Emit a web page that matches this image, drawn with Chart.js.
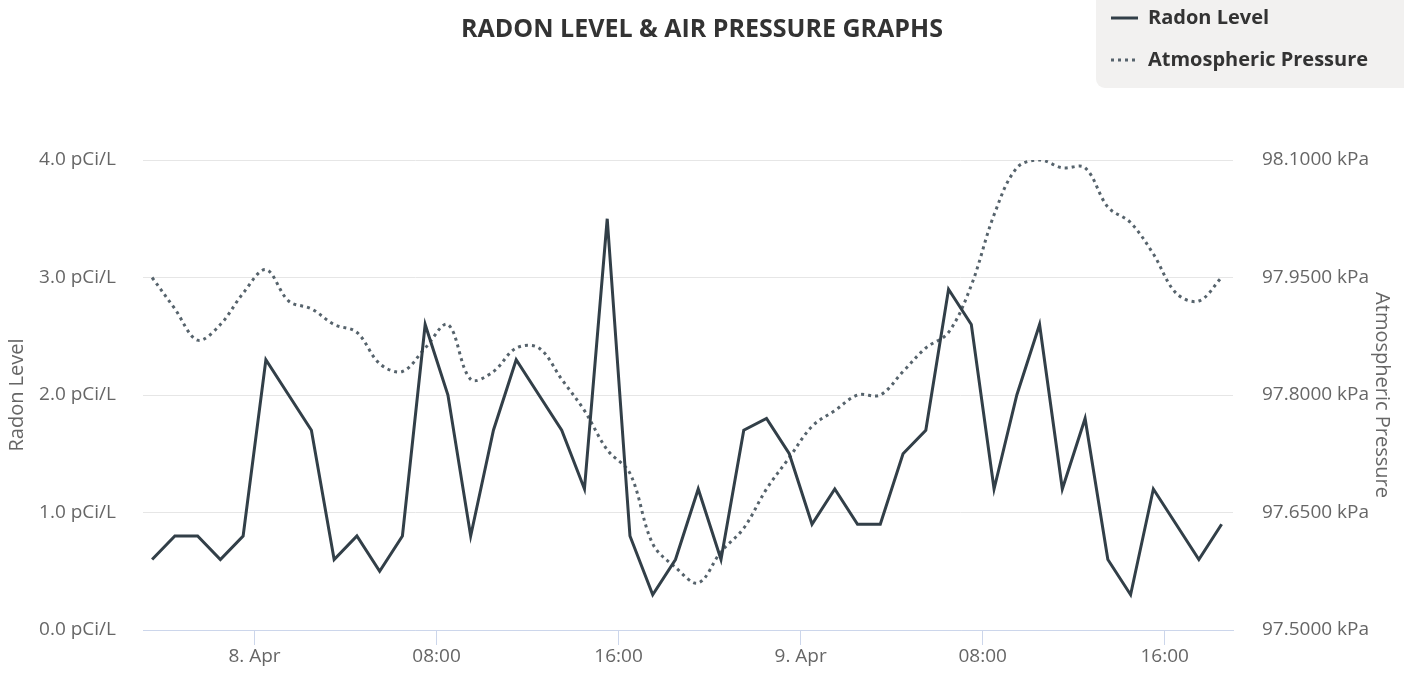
<!DOCTYPE html>
<html>
<head>
<meta charset="utf-8">
<title>Radon level & air pressure</title>
<script src="https://cdn.jsdelivr.net/npm/chart.js@4.4.1/dist/chart.umd.min.js"></script>
<style>
  html, body { margin: 0; padding: 0; background: #ffffff; }
  #wrap { width: 1404px; height: 687px; }
</style>
</head>
<body>
<div id="wrap"><canvas id="radonChart" width="1404" height="687"></canvas></div>
<script>
// Radon level & air pressure, hourly readings 7 Apr 19:30 -> 9 Apr 18:30

// hours counted from 8 Apr 00:00
var hours = [-4.5, -3.5, -2.5, -1.5, -0.5, 0.5, 1.5, 2.5, 3.5, 4.5, 5.5, 6.5,
  7.5, 8.5, 9.5, 10.5, 11.5, 12.5, 13.5, 14.5, 15.5, 16.5, 17.5, 18.5,
  19.5, 20.5, 21.5, 22.5, 23.5, 24.5, 25.5, 26.5, 27.5, 28.5, 29.5, 30.5,
  31.5, 32.5, 33.5, 34.5, 35.5, 36.5, 37.5, 38.5, 39.5, 40.5, 41.5, 42.5];

// pCi/L
var radon = [0.6, 0.8, 0.8, 0.6, 0.8, 2.3, 2.0, 1.7, 0.6, 0.8, 0.5, 0.8,
  2.6, 2.0, 0.8, 1.7, 2.3, 2.0, 1.7, 1.2, 3.5, 0.8, 0.3, 0.6,
  1.2, 0.6, 1.7, 1.8, 1.5, 0.9, 1.2, 0.9, 0.9, 1.5, 1.7, 2.9,
  2.6, 1.2, 2.0, 2.6, 1.2, 1.8, 0.6, 0.3, 1.2, 0.9, 0.6, 0.9];

// kPa
var pressure = [97.95, 97.91, 97.87, 97.89, 97.93, 97.96, 97.92, 97.91, 97.89, 97.88, 97.84, 97.83,
  97.86, 97.89, 97.82, 97.83, 97.86, 97.86, 97.82, 97.78, 97.73, 97.70, 97.61, 97.58,
  97.56, 97.60, 97.63, 97.68, 97.72, 97.76, 97.78, 97.80, 97.80, 97.83, 97.86, 97.88,
  97.94, 98.03, 98.09, 98.10, 98.09, 98.09, 98.04, 98.02, 97.98, 97.93, 97.92, 97.95];

var xTickHours = [0, 8, 16, 24, 32, 40];
var xTickLabels = ["8. Apr", "08:00", "16:00", "9. Apr", "08:00", "16:00"];
var radonTicks = [0, 1, 2, 3, 4];
var pressureTicks = [97.5, 97.65, 97.8, 97.95, 98.1];

var FONT = "'Open Sans', Lato, sans-serif";
var LABEL_GREY = "#666666";

function toPoints(xs, ys) {
  var pts = [];
  for (var i = 0; i < ys.length; i++) {
    pts.push({ x: xs[i], y: ys[i] });
  }
  return pts;
}

function fixedTicks(list) {
  return function (scale) {
    scale.ticks = list.map(function (v) { return { value: v }; });
  };
}

// legend box drawn in the top right corner, like the original
var cornerLegend = {
  id: "cornerLegend",
  afterDraw: function (chart) {
    var ctx = chart.ctx;
    var sets = chart.data.datasets;
    ctx.save();
    ctx.fillStyle = "#f2f1f0";
    ctx.beginPath();
    ctx.roundRect(1096, -12, 330, 100, 9);
    ctx.fill();

    ctx.font = "bold 20px " + FONT;
    ctx.textBaseline = "middle";
    ctx.textAlign = "left";
    for (var i = 0; i < sets.length; i++) {
      var y = 18 + i * 42;
      ctx.strokeStyle = sets[i].borderColor;
      ctx.lineWidth = 3;
      ctx.setLineDash(sets[i].borderDash || []);
      ctx.beginPath();
      ctx.moveTo(1111, y);
      ctx.lineTo(1138, y);
      ctx.stroke();
      ctx.setLineDash([]);
      ctx.fillStyle = "#333333";
      ctx.fillText(sets[i].label, 1148, y);
    }
    ctx.restore();
  }
};

var radonChart = new Chart("radonChart", {
  type: "line",
  data: {
    datasets: [{
      label: "Radon Level",
      data: toPoints(hours, radon),
      yAxisID: "yRadon",
      borderColor: "#323f48",
      borderWidth: 3,
      pointRadius: 0,
      tension: 0
    }, {
      label: "Atmospheric Pressure",
      data: toPoints(hours, pressure),
      yAxisID: "yPressure",
      borderColor: "#56636c",
      borderWidth: 3,
      borderDash: [3, 4],
      pointRadius: 0,
      tension: 0.35
    }]
  },
  options: {
    responsive: false,
    animation: false,
    devicePixelRatio: 1,
    layout: { padding: 0 },
    plugins: {
      legend: { display: false },
      tooltip: { enabled: false },
      title: {
        display: true,
        text: "RADON LEVEL & AIR PRESSURE GRAPHS",
        color: "#333333",
        font: { family: FONT, size: 25, weight: "bold" },
        padding: { top: 15, bottom: 115 }
      }
    },
    scales: {
      x: {
        type: "linear",
        min: -4.9,
        max: 43.0,
        afterBuildTicks: fixedTicks(xTickHours),
        afterFit: function (scale) { scale.height = 57; },
        border: { color: "#ccd6eb", width: 1 },
        grid: { drawOnChartArea: false, drawTicks: true, tickLength: 15, color: "#ccd6eb" },
        ticks: {
          color: LABEL_GREY,
          font: { family: FONT, size: 19 },
          padding: 0,
          maxRotation: 0,
          callback: function (value) {
            var k = xTickHours.indexOf(value);
            return k >= 0 ? xTickLabels[k] : "";
          }
        }
      },
      yRadon: {
        type: "linear",
        position: "left",
        min: 0,
        max: 4,
        afterBuildTicks: fixedTicks(radonTicks),
        afterFit: function (scale) { scale.width = 143; },
        border: { display: false },
        grid: { color: "#e6e6e6", lineWidth: 1, drawTicks: false },
        ticks: {
          color: LABEL_GREY,
          font: { family: FONT, size: 19 },
          padding: 27,
          callback: function (value) { return value.toFixed(1) + " pCi/L"; }
        },
        title: {
          display: true,
          text: "Radon Level",
          color: LABEL_GREY,
          font: { family: FONT, size: 20 },
          padding: { top: 5, bottom: 0 }
        }
      },
      yPressure: {
        type: "linear",
        position: "right",
        min: 97.5,
        max: 98.1,
        afterBuildTicks: fixedTicks(pressureTicks),
        afterFit: function (scale) { scale.width = 171; },
        border: { display: false },
        grid: { drawOnChartArea: false, drawTicks: false },
        ticks: {
          color: LABEL_GREY,
          font: { family: FONT, size: 19 },
          padding: 29,
          callback: function (value) { return value.toFixed(4) + " kPa"; }
        },
        title: {
          display: true,
          text: "Atmospheric Pressure",
          color: LABEL_GREY,
          font: { family: FONT, size: 20 },
          padding: { top: 10, bottom: 0 }
        }
      }
    }
  },
  plugins: [cornerLegend]
});
</script>
</body>
</html>
